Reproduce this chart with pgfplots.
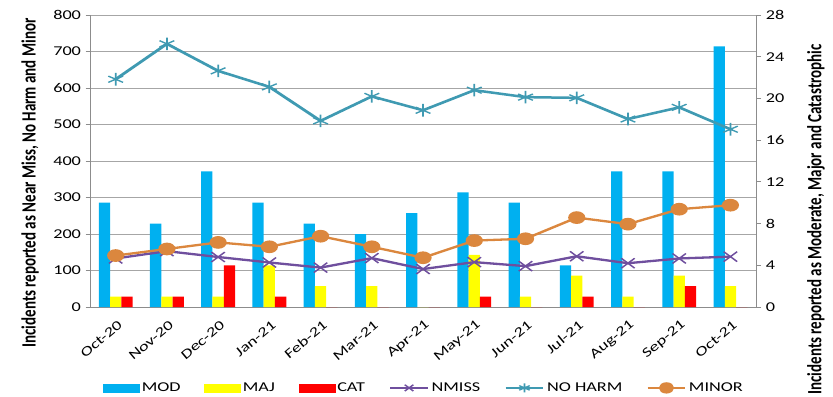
\documentclass[border=0pt]{standalone}
\usepackage{graphicx}
\usepackage{pgfplots}
\pgfplotsset{compat=1.18}
\usepackage{pgfplotstable}
\usepackage{fontspec}
\setmainfont{Carlito}
\definecolor{modc}{HTML}{00B0F0}
\definecolor{majc}{HTML}{FFFF00}
\definecolor{catc}{HTML}{FF0000}
\definecolor{nmissc}{HTML}{6F4F9E}
\definecolor{noharmc}{HTML}{3F9AB2}
\definecolor{minorc}{HTML}{DB873E}
\definecolor{gridc}{HTML}{A6A6A6}
\definecolor{axc}{HTML}{8C8C8C}
\newcommand{\fs}{\fontsize{13.5bp}{16bp}\selectfont}
\newcommand{\fl}{\fontsize{15bp}{17bp}\selectfont\bfseries}
\pgfplotstableread{
x mod maj cat nmiss noharm minor
0 10 1 1 133 624 141
1 8 1 1 153 721 159
2 13 1 4 137 647 177
3 10 4 1 122 603 165
4 8 2 0 108 510 194
5 7 2 0 134 577 165
6 9 0 0 104 539 135
7 11 5 1 123 594 182
8 10 1 0 112 575 187
9 4 3 1 139 573 245
10 13 1 0 120 515 227
11 13 3 2 133 547 268
12 25 2 0 138 487 279
}\datatable
\pgfplotsset{
  base/.style={scale only axis, width=493.3bp, height=292bp, xmin=-0.5, xmax=12.5, at={(0,0)}, anchor=south west},
  myline/.style={legend image code/.code={\draw[mark repeat=2,mark phase=2,##1, mark size=4.5bp] plot coordinates {(0bp,0bp)(14bp,0bp)(28bp,0bp)};}},
}
\begin{document}
\scalebox{1.35}[1]{%
\begin{tikzpicture}
\path[use as bounding box] (-66.7bp,-89bp) rectangle (550.3bp,307bp);
% axis 1: left axis, grid, x labels
\begin{axis}[base, ymin=0, ymax=800, ytick={0,100,...,800},
  axis x line*=bottom, axis y line*=left,
  ymajorgrids, grid style={gridc, line width=0.8bp},
  axis line style={axc, line width=0.8bp},
  tick align=outside, major tick length=3.2bp,
  ytick style={axc, line width=0.8bp},
  xtick={0,...,12},
  xticklabels={Oct-20,Nov-20,Dec-20,Jan-21,Feb-21,Mar-21,Apr-21,May-21,Jun-21,Jul-21,Aug-21,Sep-21,Oct-21},
  xtick style={draw=none},
  minor xtick={-0.5,0.5,...,12.5}, minor tick length=6bp,
  minor x tick style={axc, line width=0.8bp},
  tick label style={font=\fs},
  /pgf/number format/assume math mode=true,
  xticklabel style={xshift=6bp, yshift=-10bp, xscale=0.7407, rotate=40, xscale=1.35, anchor=east},
  ylabel={Incidents reported as Near Miss, No Harm and Minor},
  ylabel style={at={(rel axis cs:-0.09,0.425)}, anchor=center, font=\fl},
]
\addplot[draw=none] coordinates {(0,0)};
\end{axis}
% axis 2: right axis, bars
\begin{axis}[base, ymin=0, ymax=28, ytick={0,4,...,28},
  axis y line*=right, axis x line=none,
  axis line style={axc, line width=0.8bp},
  tick align=outside, major tick length=3.7bp,
  ytick style={axc, line width=0.8bp},
  tick label style={font=\fs},
  /pgf/number format/assume math mode=true,
  ylabel={Incidents reported as Moderate, Major and Catastrophic},
  ylabel style={at={(rel axis cs:1.09,0.30)}, anchor=center, font=\fl},
]
\addplot[ybar, bar width=0.22, bar shift=-0.22, fill=modc, draw=none] table[x=x,y=mod]{\datatable};
\addplot[ybar, bar width=0.22, bar shift=0, fill=majc, draw=none] table[x=x,y=maj]{\datatable};
\addplot[ybar, bar width=0.22, bar shift=0.22, fill=catc, draw=none] table[x=x,y=cat]{\datatable};
\end{axis}
% axis 3: lines + legend
\begin{axis}[base, ymin=0, ymax=800, hide axis,
  legend style={at={(rel axis cs:0.5015,-0.277)}, anchor=center, draw=none, fill=none,
    font=\fs, /tikz/every even column/.append style={column sep=16bp}, nodes={inner sep=1.5bp}},
  legend columns=6,
]
\addlegendimage{legend image code/.code={\fill[modc] (0bp,-4bp) rectangle (26.7bp,4bp);}}
\addlegendentry{MOD}
\addlegendimage{legend image code/.code={\fill[majc] (0bp,-4bp) rectangle (26.7bp,4bp);}}
\addlegendentry{MAJ}
\addlegendimage{legend image code/.code={\fill[catc] (0bp,-4bp) rectangle (26.7bp,4bp);}}
\addlegendentry{CAT}
\addplot[myline, color=nmissc, line width=2.3bp, mark=x, mark size=7bp, mark options={line width=1.3bp}] table[x=x,y=nmiss]{\datatable};
\addlegendentry{NMISS}
\addplot[myline, color=noharmc, line width=2.5bp, mark=asterisk, mark size=6.3bp, mark options={line width=1.3bp}] table[x=x,y=noharm]{\datatable};
\addlegendentry{NO HARM}
\addplot[myline, color=minorc, line width=2.3bp, mark=*, mark size=5.2bp, mark options={fill=minorc, draw=minorc}] table[x=x,y=minor]{\datatable};
\addlegendentry{MINOR}
\end{axis}
\end{tikzpicture}}
\end{document}
